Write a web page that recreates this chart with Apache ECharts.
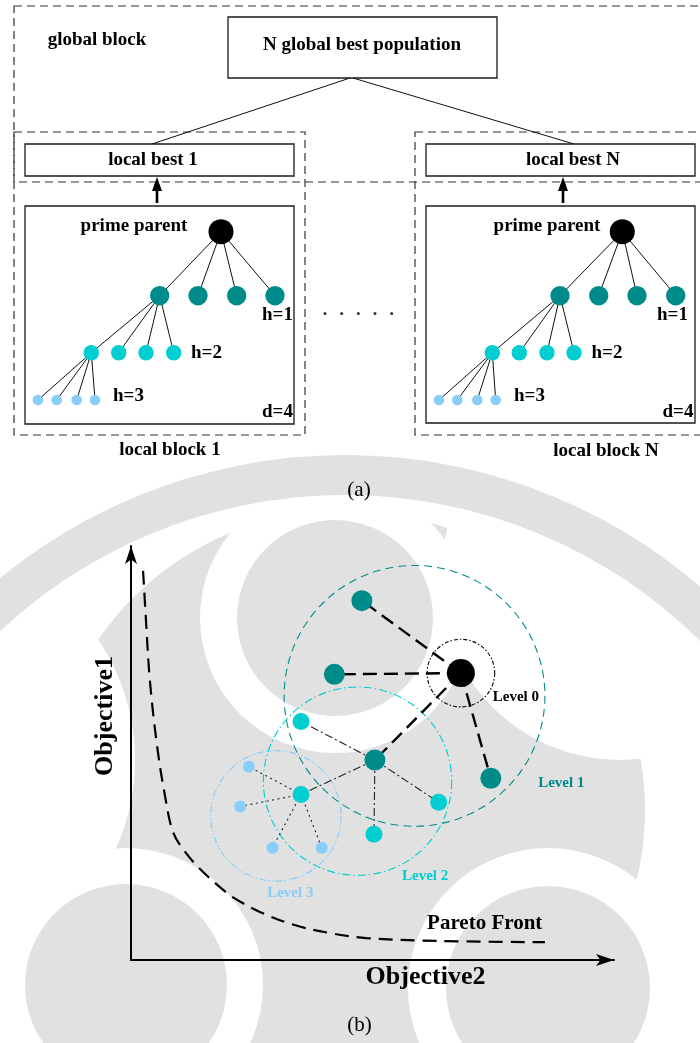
<!DOCTYPE html>
<html>
<head>
<meta charset="utf-8">
<script src="https://cdn.jsdelivr.net/npm/echarts/dist/echarts.min.js"></script>
<style>
  html, body { margin: 0; padding: 0; background: #fff; }
  #chart { width: 700px; height: 1043px; }
</style>
</head>
<body>
<div id="chart"></div>
<script>
// ---------- panel (a): layout in page units (x right, y down) ----------
const solidBoxes = [
  [228, 17, 497, 78],     // N global best population
  [25, 144, 294, 176],    // local best 1
  [426, 144, 695, 176],   // local best N
  [25, 206, 294, 424],    // tree box, block 1
  [426, 206, 695, 423]    // tree box, block N
];
const dashedBoxes = [
  [14, 6, 706, 182],      // global block
  [14, 132, 305, 435],    // local block 1
  [415, 132, 706, 435]    // local block N
];
const globalLinks = [
  [350, 78, 152, 144],
  [353, 78, 574, 144]
];
const arrowX = [157, 563];
const arrowSpan = [203, 177];

const treeLevelY = [231.7, 295.7, 352.7, 400];
const block1X = [[221], [159.7, 198, 236.7, 275], [91.3, 118.7, 146, 173.7], [38, 56.7, 76.7, 95]];
const blockNX = [[622.3], [560, 598.7, 637, 675.7], [492.3, 519.3, 547, 574], [439, 457.3, 477.3, 495.7]];
const ellipsisX = [325, 341.7, 358.3, 375, 391.7];
const ellipsisY = 313.5;

// [text, x, y, align, weight]
const pageLabels = [
  ['global block', 97, 40, 'center', 'bold'],
  ['N global best population', 362, 45, 'center', 'bold'],
  ['local best 1', 153, 160, 'center', 'bold'],
  ['local best N', 573, 160, 'center', 'bold'],
  ['prime parent', 134, 226, 'center', 'bold'],
  ['prime parent', 547, 226, 'center', 'bold'],
  ['h=1', 262, 315, 'left', 'bold'],
  ['h=1', 657, 315, 'left', 'bold'],
  ['h=2', 191, 353, 'left', 'bold'],
  ['h=2', 591.5, 353, 'left', 'bold'],
  ['h=3', 113, 396.5, 'left', 'bold'],
  ['h=3', 514, 396.5, 'left', 'bold'],
  ['d=4', 262, 412.5, 'left', 'bold'],
  ['d=4', 662.5, 412, 'left', 'bold'],
  ['local block 1', 170, 450, 'center', 'bold'],
  ['local block N', 606, 451.5, 'center', 'bold'],
  ['(a)', 359, 490, 'center', 'normal'],
  ['(b)', 359.5, 1025, 'center', 'normal']
];

// faint emblem behind the page, painted in order: [cx, cy, r, r0, tone]  tone 0 = grey, 1 = white
const emblemShapes = [
  [345, 810, 300, 0, 0],
  [-80, 760, 215, 0, 1],
  [620, 580, 180, 0, 1],
  [335, 618, 135, 0, 1],
  [126, 985, 137, 0, 1],
  [548, 988, 140, 0, 1],
  [335, 618, 98, 0, 0],
  [126, 985, 101, 0, 0],
  [548, 988, 102, 0, 0],
  [345, 1000, 545, 505, 0]
];

// ---------- panel (b): objective space (0..10 on both axes) ----------
const level0Pts = [[6.83, 6.93]];
const level1Pts = [[4.78, 8.68], [4.21, 6.90], [5.05, 4.83], [7.45, 4.39]];
const level2Pts = [[3.52, 5.76], [3.52, 4.00], [6.37, 3.81], [5.03, 3.04]];
const level3Pts = [[2.44, 4.67], [2.26, 3.71], [2.93, 2.71], [3.95, 2.71]];
// neighbourhood rings: [cx, cy, radius in x units]
const levelRings = [[6.83, 6.93, 0.70], [5.87, 6.38, 2.70], [4.69, 4.32, 1.95], [3.00, 3.48, 1.35]];
const levelNames = ['Level 0', 'Level 1', 'Level 2', 'Level 3'];
const levelNamePos = [[7.49, 6.35], [8.43, 4.28], [5.61, 2.03], [2.82, 1.62]];
const paretoFront = [
  [0.25, 9.40], [0.31, 8.21], [0.39, 6.76], [0.54, 5.17], [0.70, 3.99], [0.87, 3.09],
  [1.12, 2.61], [1.43, 2.20], [1.84, 1.76], [2.13, 1.50], [2.67, 1.16], [3.37, 0.85],
  [4.12, 0.65], [4.87, 0.53], [6.34, 0.46], [8.57, 0.43]
];
const paretoLabelPos = [6.13, 0.89];

// ---------- styles ----------
const FONT = '"Liberation Serif", "Times New Roman", serif';
const LEVEL_COLORS = ['#000000', '#008b8b', '#00ced1', '#87cefa'];
const TREE_SIZES = [25, 19.4, 15.4, 10.6];
const OBJ_SIZES = [28, 21, 17, 12];
const EMBLEM_TONES = ['#e1e1e1', '#ffffff'];
const RING_STYLES = [
  { stroke: '#000000', lineWidth: 1.1, lineDash: [4, 2, 1.5, 2] },
  { stroke: '#008b8b', lineWidth: 1.1, lineDash: [8, 5] },
  { stroke: '#00ced1', lineWidth: 1.1, lineDash: [8, 3, 1.5, 3] },
  { stroke: '#87cefa', lineWidth: 1.1, lineDash: [7, 2, 1.5, 2, 1.5, 2] }
];
const EDGE_STYLES = [
  { stroke: '#000000', lineWidth: 2.4, lineDash: [14, 7] },
  { stroke: '#222222', lineWidth: 1.1, lineDash: [8, 3, 2, 3] },
  { stroke: '#222222', lineWidth: 1.1, lineDash: [2, 3.5] }
];

// ---------- derived series data ----------
const treeNodes = [[], [], [], []];
const treeEdges = [];
[block1X, blockNX].forEach(function (bx) {
  bx.forEach(function (xs, lvl) {
    xs.forEach(function (x) { treeNodes[lvl].push([x, treeLevelY[lvl]]); });
    if (lvl > 0) {
      const px = bx[lvl - 1][0], py = treeLevelY[lvl - 1];
      xs.forEach(function (x) { treeEdges.push([px, py, x, treeLevelY[lvl]]); });
    }
  });
});

// links: prime parent -> level 1, one level-1 node -> level 2, one level-2 node -> level 3
const objEdges = [];
level1Pts.forEach(function (p) { objEdges.push([level0Pts[0][0], level0Pts[0][1], p[0], p[1], 0]); });
level2Pts.forEach(function (p) { objEdges.push([level1Pts[2][0], level1Pts[2][1], p[0], p[1], 1]); });
level3Pts.forEach(function (p) { objEdges.push([level2Pts[1][0], level2Pts[1][1], p[0], p[1], 2]); });

const chart = echarts.init(document.getElementById('chart'), null, { renderer: 'canvas' });

function hiddenAxis(gridIndex, min, max, inverse) {
  return {
    gridIndex: gridIndex, type: 'value', min: min, max: max, inverse: !!inverse,
    show: false, splitLine: { show: false }
  };
}

const axisLineStyle = {
  show: true, onZero: false, symbol: ['none', 'arrow'], symbolSize: [9, 18],
  lineStyle: { color: '#000', width: 2 }
};

const option = {
  animation: false,
  backgroundColor: '#ffffff',
  grid: [
    { left: 0, top: 0, width: 700, height: 1043 },
    { left: 131, top: 546, width: 483, height: 414 }
  ],
  xAxis: [
    hiddenAxis(0, 0, 700, false),
    {
      gridIndex: 1, type: 'value', min: 0, max: 10,
      axisLine: axisLineStyle, axisTick: { show: false }, axisLabel: { show: false },
      splitLine: { show: false },
      name: 'Objective2', nameLocation: 'middle', nameGap: 4,
      nameTextStyle: { fontFamily: FONT, fontWeight: 'bold', fontSize: 26, color: '#000', padding: [0, 0, 0, 106] }
    }
  ],
  yAxis: [
    hiddenAxis(0, 0, 1043, true),
    {
      gridIndex: 1, type: 'value', min: 0, max: 10,
      axisLine: axisLineStyle, axisTick: { show: false }, axisLabel: { show: false },
      splitLine: { show: false },
      name: 'Objective1', nameLocation: 'middle', nameGap: 13, nameRotate: 90,
      nameTextStyle: { fontFamily: FONT, fontWeight: 'bold', fontSize: 26, color: '#000', padding: [0, 0, 0, 74] }
    }
  ],
  series: [
    // emblem behind everything
    {
      type: 'custom', xAxisIndex: 0, yAxisIndex: 0, z: -10, silent: true,
      data: emblemShapes,
      renderItem: function (params, api) {
        const c = api.coord([api.value(0), api.value(1)]);
        const r = api.value(2), r0 = api.value(3);
        const fill = EMBLEM_TONES[api.value(4)];
        if (r0 > 0) {
          return { type: 'ring', shape: { cx: c[0], cy: c[1], r: r, r0: r0 }, style: { fill: fill } };
        }
        return { type: 'circle', shape: { cx: c[0], cy: c[1], r: r }, style: { fill: fill } };
      }
    },
    // solid boxes
    {
      type: 'custom', xAxisIndex: 0, yAxisIndex: 0, silent: true,
      data: solidBoxes,
      renderItem: function (params, api) {
        const a = api.coord([api.value(0), api.value(1)]);
        const b = api.coord([api.value(2), api.value(3)]);
        return { type: 'rect', shape: { x: a[0], y: a[1], width: b[0] - a[0], height: b[1] - a[1] },
          style: { fill: 'none', stroke: '#1a1a1a', lineWidth: 1.3 } };
      }
    },
    // dashed block outlines
    {
      type: 'custom', xAxisIndex: 0, yAxisIndex: 0, silent: true,
      data: dashedBoxes,
      renderItem: function (params, api) {
        const a = api.coord([api.value(0), api.value(1)]);
        const b = api.coord([api.value(2), api.value(3)]);
        return { type: 'rect', shape: { x: a[0], y: a[1], width: b[0] - a[0], height: b[1] - a[1] },
          style: { fill: 'none', stroke: '#333333', lineWidth: 1.2, lineDash: [8, 5] } };
      }
    },
    // links from global best to local bests, and tree edges
    {
      type: 'custom', xAxisIndex: 0, yAxisIndex: 0, silent: true,
      data: globalLinks.concat(treeEdges),
      renderItem: function (params, api) {
        const a = api.coord([api.value(0), api.value(1)]);
        const b = api.coord([api.value(2), api.value(3)]);
        return { type: 'line', shape: { x1: a[0], y1: a[1], x2: b[0], y2: b[1] },
          style: { stroke: '#111111', lineWidth: 1 } };
      }
    },
    // upward arrows into local best boxes
    {
      type: 'custom', xAxisIndex: 0, yAxisIndex: 0, silent: true,
      data: arrowX.map(function (x) { return [x, arrowSpan[0], arrowSpan[1]]; }),
      renderItem: function (params, api) {
        const base = api.coord([api.value(0), api.value(1)]);
        const tip = api.coord([api.value(0), api.value(2)]);
        return {
          type: 'group',
          children: [
            { type: 'line', shape: { x1: base[0], y1: base[1], x2: tip[0], y2: tip[1] + 8 },
              style: { stroke: '#000', lineWidth: 2.6 } },
            { type: 'polygon', shape: { points: [[tip[0], tip[1]], [tip[0] - 5, tip[1] + 14], [tip[0] + 5, tip[1] + 14]] },
              style: { fill: '#000' } }
          ]
        };
      }
    },
    // tree nodes, one series per height
    ...treeNodes.map(function (pts, lvl) {
      return {
        type: 'scatter', xAxisIndex: 0, yAxisIndex: 0, silent: true, z: 5,
        symbolSize: TREE_SIZES[lvl], itemStyle: { color: LEVEL_COLORS[lvl], opacity: 1 },
        data: pts
      };
    }),
    // ellipsis between the blocks
    {
      type: 'scatter', xAxisIndex: 0, yAxisIndex: 0, silent: true, z: 5,
      symbolSize: 3, itemStyle: { color: '#000' },
      data: ellipsisX.map(function (x) { return [x, ellipsisY]; })
    },
    // page text
    {
      type: 'custom', xAxisIndex: 0, yAxisIndex: 0, silent: true, z: 6,
      data: pageLabels.map(function (l, i) { return [l[1], l[2], i]; }),
      renderItem: function (params, api) {
        const l = pageLabels[api.value(2)];
        const c = api.coord([api.value(0), api.value(1)]);
        const size = l[4] === 'bold' ? 19 : 21;
        return { type: 'text', x: c[0], y: c[1],
          style: { text: l[0], fill: '#000', font: l[4] + ' ' + size + 'px ' + FONT,
            align: l[3], verticalAlign: 'middle' } };
      }
    },

    // ---------- panel (b) ----------
    {
      type: 'line', xAxisIndex: 1, yAxisIndex: 1, silent: true, z: 3,
      data: paretoFront, smooth: 0.35, showSymbol: false, symbol: 'none',
      lineStyle: { color: '#000', width: 2.2, type: [14, 8] }
    },
    {
      type: 'custom', xAxisIndex: 1, yAxisIndex: 1, silent: true, z: 3,
      data: levelRings.map(function (r, i) { return [r[0], r[1], r[2], i]; }),
      renderItem: function (params, api) {
        const c = api.coord([api.value(0), api.value(1)]);
        const rp = api.size([api.value(2), 0])[0];
        const s = RING_STYLES[api.value(3)];
        return { type: 'circle', shape: { cx: c[0], cy: c[1], r: rp },
          style: { fill: 'none', stroke: s.stroke, lineWidth: s.lineWidth, lineDash: s.lineDash } };
      }
    },
    {
      type: 'custom', xAxisIndex: 1, yAxisIndex: 1, silent: true, z: 4,
      data: objEdges,
      renderItem: function (params, api) {
        const a = api.coord([api.value(0), api.value(1)]);
        const b = api.coord([api.value(2), api.value(3)]);
        const s = EDGE_STYLES[api.value(4)];
        return { type: 'line', shape: { x1: a[0], y1: a[1], x2: b[0], y2: b[1] },
          style: { stroke: s.stroke, lineWidth: s.lineWidth, lineDash: s.lineDash } };
      }
    },
    ...[level0Pts, level1Pts, level2Pts, level3Pts].map(function (pts, lvl) {
      return {
        type: 'scatter', xAxisIndex: 1, yAxisIndex: 1, silent: true, z: 5,
        symbolSize: OBJ_SIZES[lvl], itemStyle: { color: LEVEL_COLORS[lvl], opacity: 1 },
        data: pts
      };
    }),
    {
      type: 'custom', xAxisIndex: 1, yAxisIndex: 1, silent: true, z: 6,
      data: levelNamePos.map(function (p, i) { return [p[0], p[1], i]; }).concat([[paretoLabelPos[0], paretoLabelPos[1], 4]]),
      renderItem: function (params, api) {
        const i = api.value(2);
        const c = api.coord([api.value(0), api.value(1)]);
        const isFront = i === 4;
        return { type: 'text', x: c[0], y: c[1],
          style: { text: isFront ? 'Pareto Front' : levelNames[i],
            fill: isFront ? '#000' : LEVEL_COLORS[i],
            font: 'bold ' + (isFront ? 21 : 15) + 'px ' + FONT,
            align: 'left', verticalAlign: 'middle' } };
      }
    }
  ]
};

chart.setOption(option);
</script>
</body>
</html>
